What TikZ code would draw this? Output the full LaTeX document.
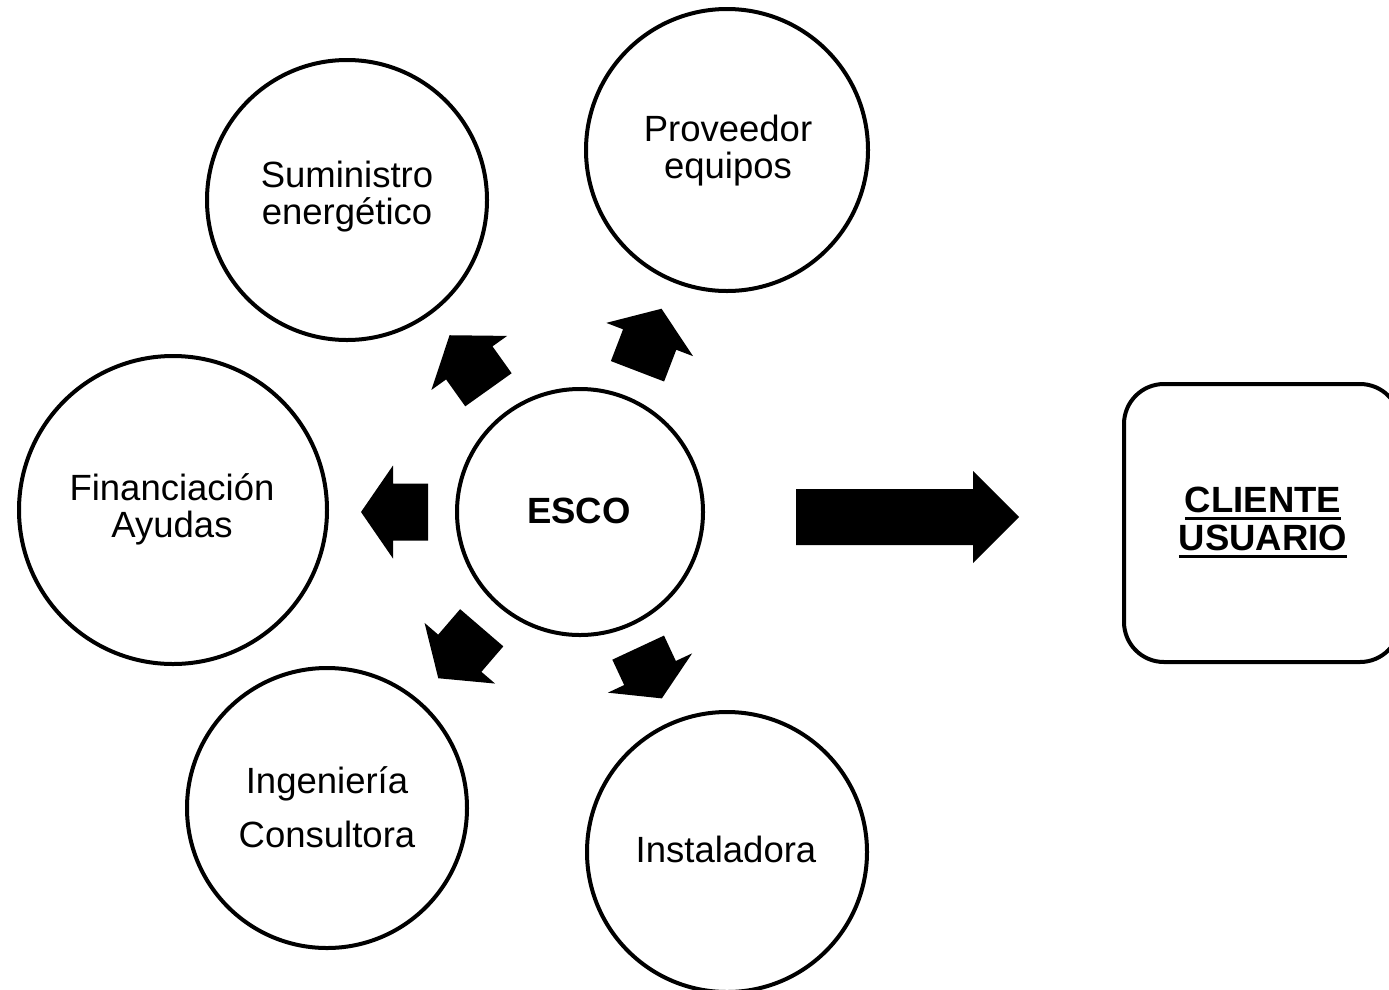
\documentclass[tikz,border=0pt]{standalone}
\usepackage{fontspec}
\setmainfont{Liberation Sans}
\newcommand\myul[1]{\setbox0\hbox{#1}\rlap{\rule[-8pt]{\wd0}{3.5pt}}\box0}
\tikzset{
  bub/.style={circle, draw=black, line width=4pt, inner sep=0pt, minimum size=#1},
  txt/.style={align=center, inner sep=0pt, anchor=base, font=\fontsize{36.5}{36.5}\selectfont},
  pics/barrow/.style n args={4}{code={
    \fill[black] ({-#1/2},{-#3}) -- ({#1/2-#2},{-#3}) -- ({#1/2-#2},{-#4}) -- ({#1/2},0)
      -- ({#1/2-#2},{#4}) -- ({#1/2-#2},{#3}) -- ({-#1/2},{#3}) -- cycle;}}
}
\begin{document}
\begin{tikzpicture}[x=1pt,y=-1pt]
\useasboundingbox (0,0) rectangle (1389,989);
% circles
\node[bub=280pt] (sum) at (347,200) {};
\node[bub=282pt] (prov) at (727,150) {};
\node[bub=308pt] (fin) at (173,510) {};
\node[bub=246pt] (esco) at (580,512) {};
\node[bub=280pt] (ing) at (327,808) {};
\node[bub=280pt] (inst) at (727,852) {};
\node[draw=black, line width=4pt, rounded corners=40pt, minimum width=276pt, minimum height=278pt, inner sep=0pt] (cli) at (1262,523) {};
% texts (base anchor = baseline of the last line)
\node[txt] (tsum) at (347,224) {Suministro\\energético};
\node[txt] (tprov) at (728,178) {Proveedor\\equipos};
\node[txt] (tfin) at (172,537) {Financiación\\Ayudas};
\node[txt, font=\fontsize{36.5}{36.5}\selectfont\bfseries] (tesco) at (579,523) {ESCO};
\node[txt, font=\fontsize{36.5}{54}\selectfont] (ting) at (327,847) {Ingeniería\\Consultora};
\node[txt] (tinst) at (726,862) {Instaladora};
\node[txt, font=\fontsize{36.5}{38}\selectfont\bfseries] (tcli) at (1263,550) {\myul{CLIENTE}\\\myul{USUARIO}};
% block arrows
\pic[shift={(394.5,512)}, rotate=180] {barrow={67}{32}{28.5}{46.5}};
\pic[shift={(469,362.5)}, rotate=125.5] {barrow={67}{34}{28.5}{46.5}};
\pic[shift={(649.5,340)}, rotate=69] {barrow={67}{33}{28.5}{46.5}};
\pic[shift={(460,653)}, rotate=229.3] {barrow={66.6}{33}{28.5}{46.5}};
\pic[shift={(650,673)}, rotate=-65] {barrow={56}{28}{28.5}{46.5}};
\pic[shift={(907.5,517)}] {barrow={223}{46}{28}{46}};
\end{tikzpicture}
\end{document}
